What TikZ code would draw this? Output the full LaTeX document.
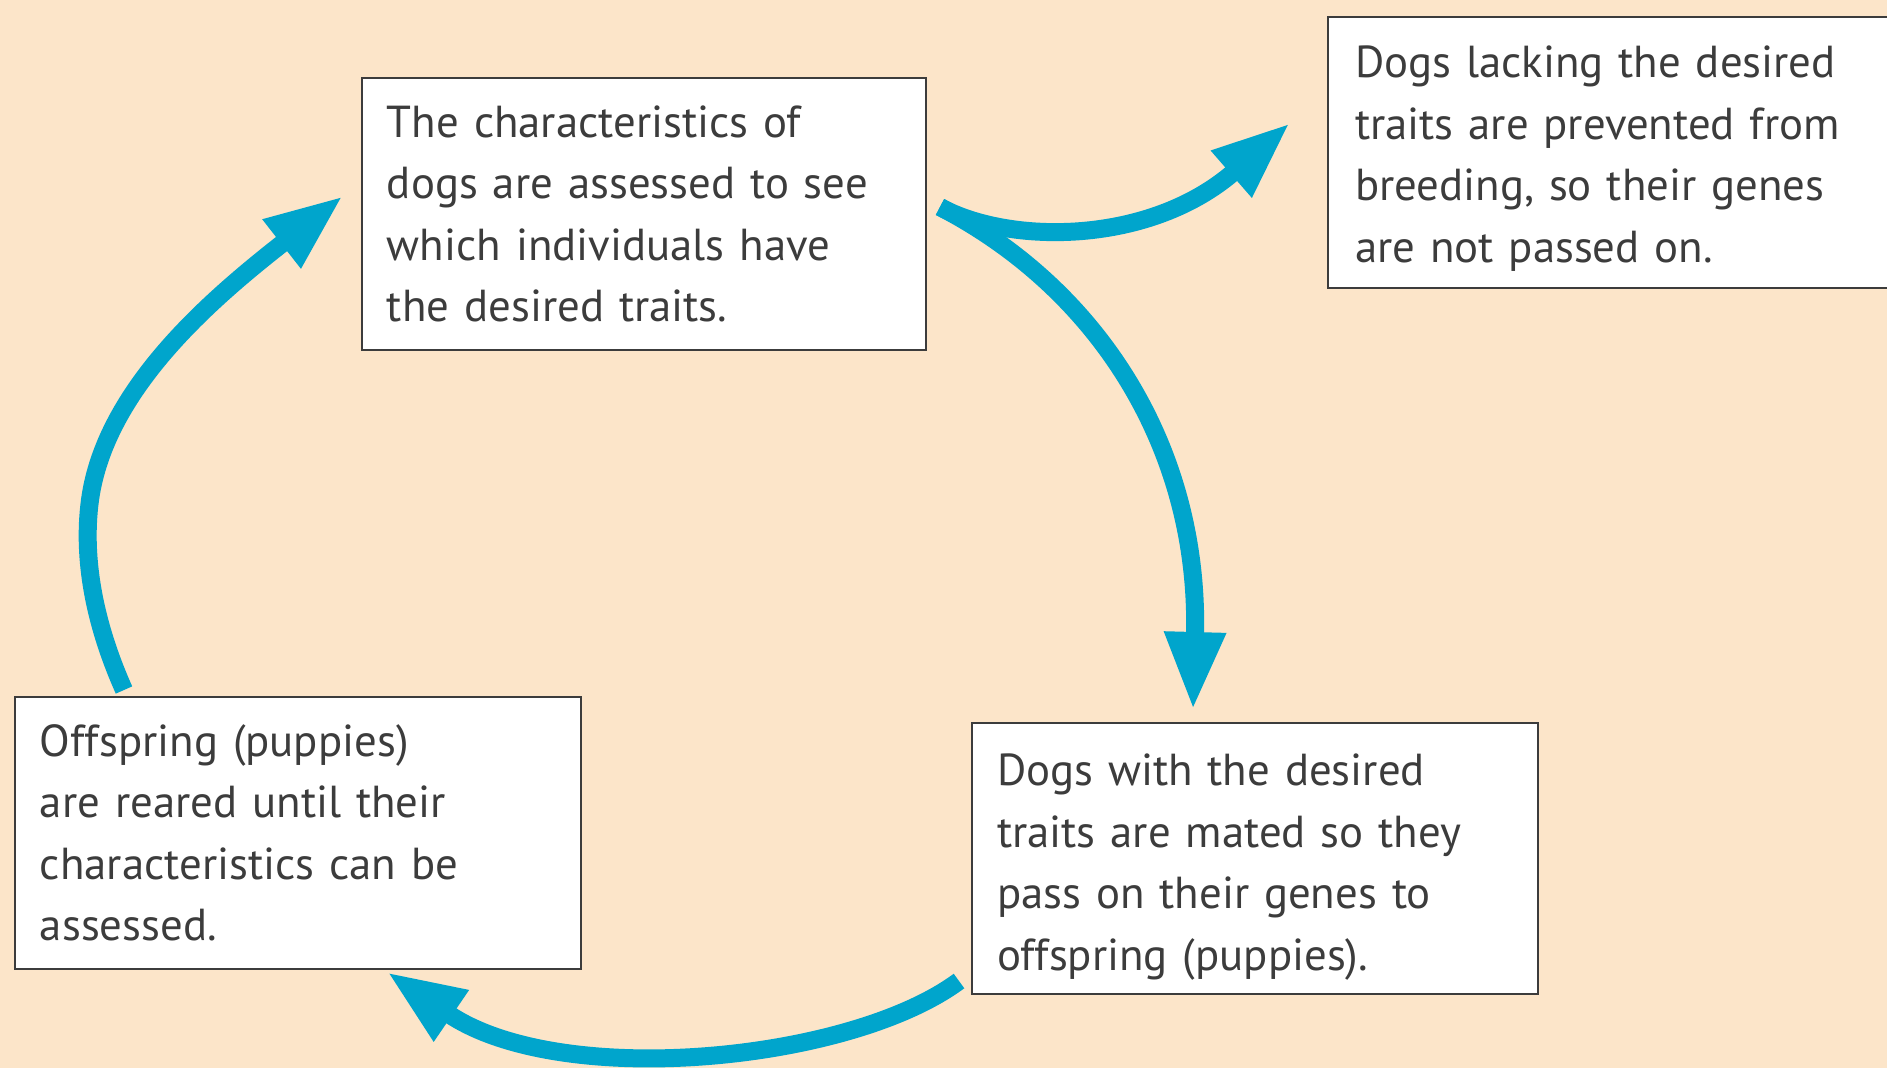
\documentclass[tikz,border=0pt]{standalone}
\usepackage{fontspec}
\setmainfont{PT Sans}
\usetikzlibrary{arrows.meta}
\definecolor{bg}{HTML}{FCE5C9}
\definecolor{arr}{HTML}{00A5CC}
\definecolor{txt}{HTML}{3C3C3C}
\begin{document}
\begin{tikzpicture}[x=0.02cm,y=-0.02cm,
  box/.style={draw=txt, line width=0.04cm, fill=white, anchor=north west, align=left,
    inner xsep=0.5cm, inner ysep=0pt, font=\fontsize{25.5}{35}\selectfont, text=txt},
  flow/.style={draw=arr, line width=0.36cm, -{Triangle[length=1.56cm,width=1.14cm]}}]
\useasboundingbox (0,0) rectangle (1887,1068);
\fill[bg] (0,0) rectangle (1887,1068);

\node[box, minimum width=11.28cm, minimum height=5.44cm, text width=10.28cm] (assess) at (361,77)
  {The characteristics of\\dogs are assessed to see\\which individuals have\\the desired traits.};
\node[box, minimum width=12cm, minimum height=5.42cm, text width=11cm, inner xsep=0.54cm] (lack) at (1327,16)
  {\rule{0pt}{25pt}Dogs lacking the desired\\traits are prevented from\\breeding, so their genes\\are not passed on.};
\node[box, minimum width=11.32cm, minimum height=5.44cm, text width=10.32cm] (rear) at (14,696)
  {Offspring (puppies)\\are reared until their\\characteristics can be\\assessed.};
\node[box, minimum width=11.32cm, minimum height=5.42cm, text width=10.32cm] (mate) at (971,722)
  {\rule{0pt}{28pt}Dogs with the desired\\traits are mated so they\\pass on their genes to\\offspring (puppies).};

\coordinate (l0) at (124,690);
\coordinate (l1) at (90,500);
\coordinate (l2) at (343,196);
\coordinate (r0) at (940,207);
\coordinate (r1) at (1193,710);
\coordinate (b1) at (1290,123);
\coordinate (d0) at (959,981);
\coordinate (d1) at (387,972);

\draw[flow] (l0) .. controls (95,625) and (82,560) .. (l1) .. controls (105,390) and (210,300) .. (l2);
\draw[flow] (r0) .. controls (1100,290) and (1200,450) .. (r1);
\draw[flow] (r0) .. controls (1010,245) and (1150,245) .. (b1);
\draw[flow] (d0) .. controls (850,1062) and (560,1090) .. (d1);
\end{tikzpicture}
\end{document}
